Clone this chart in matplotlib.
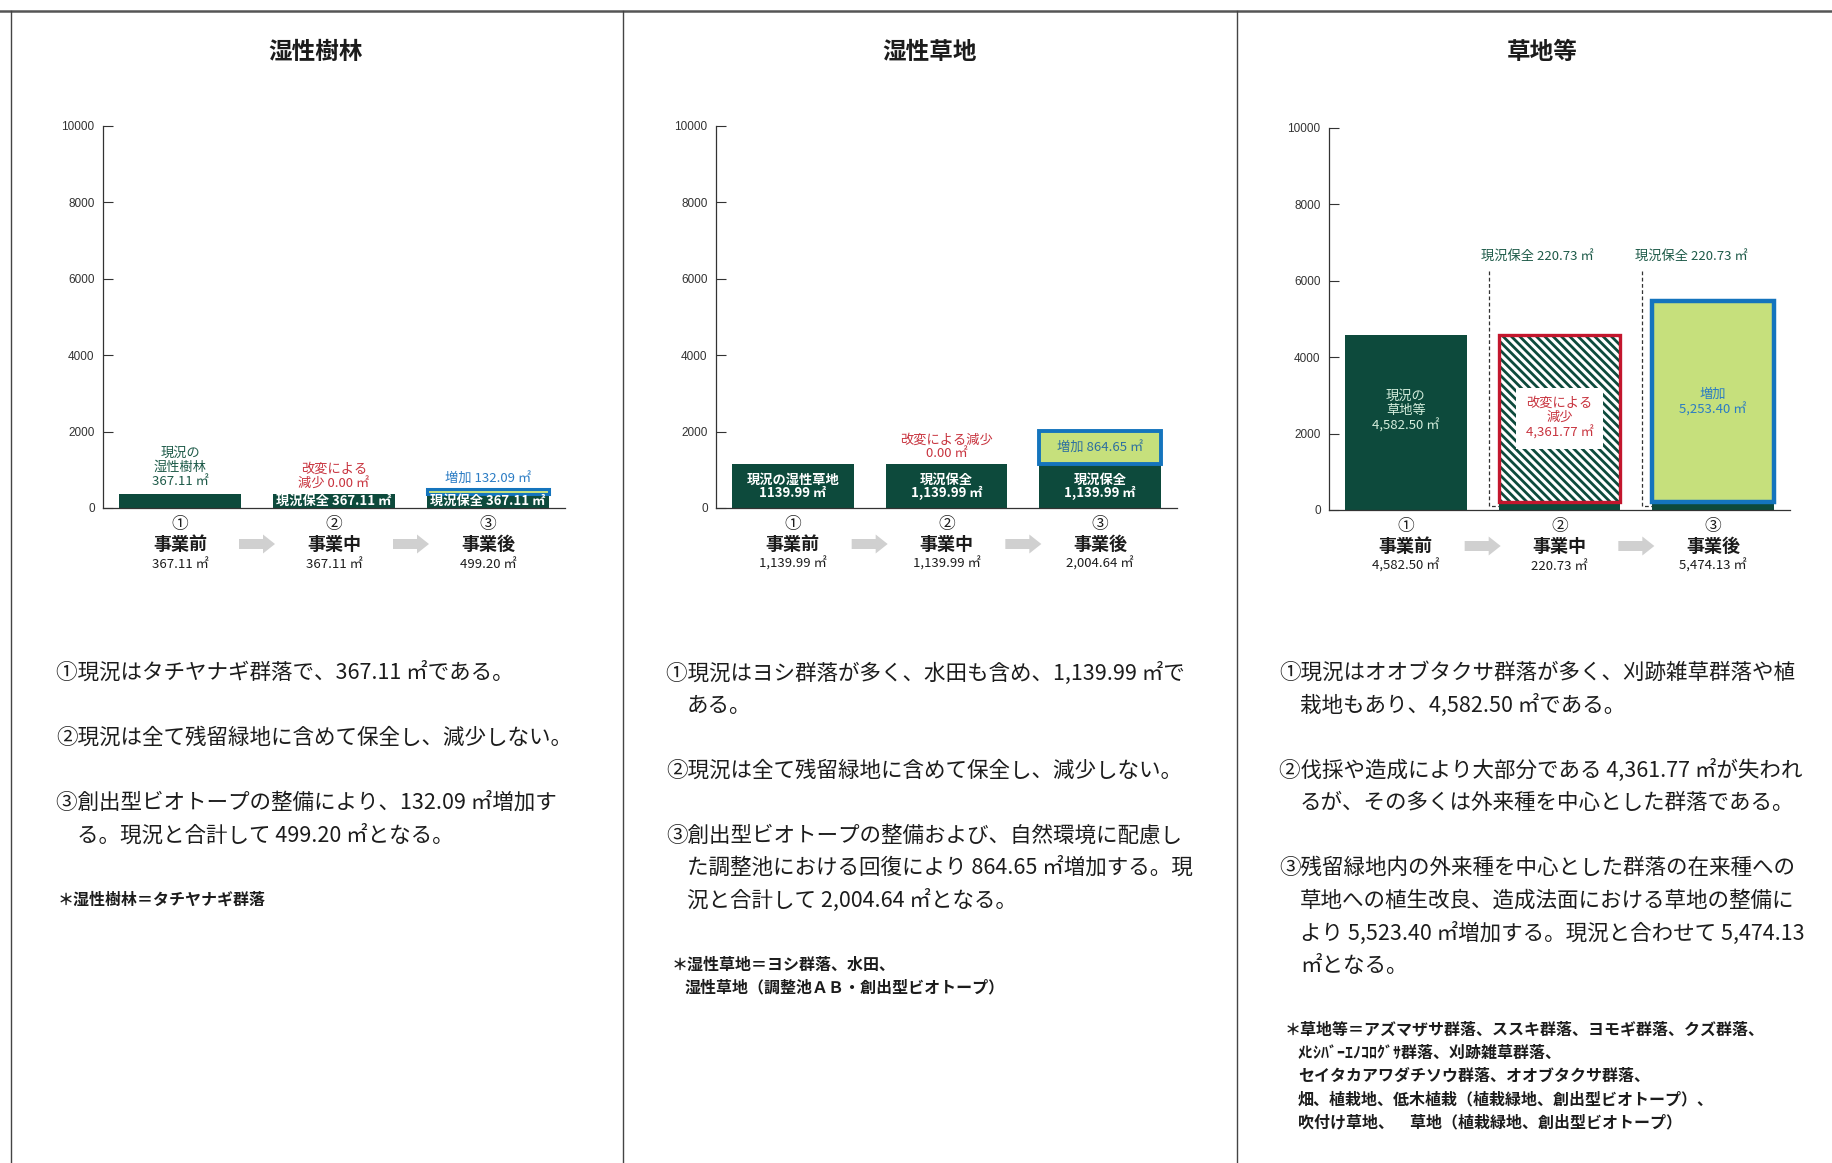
import matplotlib
matplotlib.use("Agg")
import matplotlib.pyplot as plt
from matplotlib.lines import Line2D
from matplotlib.patches import Rectangle, FancyArrow

plt.rcParams['font.family'] = ['Noto Sans CJK JP', 'DejaVu Sans']
plt.rcParams['hatch.linewidth'] = 2.0

W, H, DPI = 1832, 1163, 100

# ---------------------------------------------------------------- data
panel_titles = ["湿性樹林", "湿性草地", "草地等"]
stage_marks = ["①", "②", "③"]
stage_names = ["事業前", "事業中", "事業後"]

existing = [367.11, 1139.99, 4582.50]     # area before the works (㎡)
conserved = [367.11, 1139.99, 220.73]     # area kept as it is (㎡)
lost = [0.00, 0.00, 4361.77]              # area lost by alteration (㎡)
added = [132.09, 864.65, 5253.40]         # area created / restored (㎡)

y_ticks = [0, 2000, 4000, 6000, 8000, 10000]

paragraphs = [
    [["①現況はタチヤナギ群落で、367.11 ㎡である。"],
     ["②現況は全て残留緑地に含めて保全し、減少しない。"],
     ["③創出型ビオトープの整備により、132.09 ㎡増加す",
      "る。現況と合計して 499.20 ㎡となる。"]],
    [["①現況はヨシ群落が多く、水田も含め、1,139.99 ㎡で",
      "ある。"],
     ["②現況は全て残留緑地に含めて保全し、減少しない。"],
     ["③創出型ビオトープの整備および、自然環境に配慮し",
      "た調整池における回復により 864.65 ㎡増加する。現",
      "況と合計して 2,004.64 ㎡となる。"]],
    [["①現況はオオブタクサ群落が多く、刈跡雑草群落や植",
      "栽地もあり、4,582.50 ㎡である。"],
     ["②伐採や造成により大部分である 4,361.77 ㎡が失われ",
      "るが、その多くは外来種を中心とした群落である。"],
     ["③残留緑地内の外来種を中心とした群落の在来種への",
      "草地への植生改良、造成法面における草地の整備に",
      "より 5,523.40 ㎡増加する。現況と合わせて 5,474.13",
      "㎡となる。"]],
]

footnotes = [
    ["＊湿性樹林＝タチヤナギ群落"],
    ["＊湿性草地＝ヨシ群落、水田、",
     "湿性草地（調整池ＡＢ・創出型ビオトープ）"],
    ["＊草地等＝アズマザサ群落、ススキ群落、ヨモギ群落、クズ群落、",
     "ﾒﾋｼﾊﾞｰｴﾉｺﾛｸﾞｻ群落、刈跡雑草群落、",
     "セイタカアワダチソウ群落、オオブタクサ群落、",
     "畑、植栽地、低木植栽（植栽緑地、創出型ビオトープ）、",
     "吹付け草地、　草地（植栽緑地、創出型ビオトープ）"],
]

# ---------------------------------------------------------------- styles
DARK = "#0d4a3c"
LIGHT = "#c6e07c"
BLUE = "#1474bd"
RED = "#c3162d"
TXT_GREEN = "#1d5a48"
TXT_RED = "#c8343f"
TXT_BLUE = "#2b7cc4"
ARROW_GRAY = "#d0d0d0"
INK = "#1c1c1c"
BW = 0.79

# panel layout in pixels
axes_boxes = [(103, 126, 565, 508), (716, 126, 1177, 508), (1329, 128, 1790, 510)]
title_x = [316, 930, 1542]
text_x = [56, 666, 1279]
note_x = [58, 672, 1285]


def fmt(v, comma=True):
    return f"{v:,.2f}" if comma else f"{v:.2f}"


fig = plt.figure(figsize=(W / DPI, H / DPI), dpi=DPI)
fig.patch.set_facecolor("white")


def add_px_axes(l, t, r, b):
    return fig.add_axes([l / W, 1 - b / H, (r - l) / W, (b - t) / H])


def px_line(xs, ys, **kw):
    fig.add_artist(Line2D([x / W for x in xs], [1 - y / H for y in ys],
                          transform=fig.transFigure, **kw))


# frame of the three panels
px_line([0, W], [10.5, 10.5], color="#555555", lw=1.8)
px_line([10.5, 10.5], [10.5, H], color="#444444", lw=1.0)
px_line([623, 623], [10.5, H], color="#444444", lw=1.0)
px_line([1237, 1237], [10.5, H], color="#444444", lw=1.0)


def above(ax, x, y, text, color, gap=5, size=9.5):
    ax.annotate(text, xy=(x, y), xytext=(0, gap * 0.72), textcoords="offset points",
                ha="center", va="bottom", color=color, fontsize=size,
                linespacing=1.1, zorder=6, annotation_clip=False)


def inside(ax, x, y, text, color="white", size=9.5, weight="bold", ls=0.95):
    ax.text(x, y, text, ha="center", va="center", color=color, fontsize=size,
            fontweight=weight, linespacing=ls, zorder=6)


axes = []
for i, box in enumerate(axes_boxes):
    ax = add_px_axes(*box)
    axes.append(ax)
    ax.set_xlim(-0.5, 2.5)
    ax.set_ylim(0, 10000)
    for s in ("top", "right"):
        ax.spines[s].set_visible(False)
    for s in ("left", "bottom"):
        ax.spines[s].set_color("#333333")
        ax.spines[s].set_linewidth(0.9)
    ax.set_xticks([])
    ax.set_yticks(y_ticks)
    ax.tick_params(axis="y", direction="in", length=7, width=0.8, pad=6,
                   labelsize=8.5, colors="#333333")
    for lab in ax.get_yticklabels():
        lab.set_fontfamily(["Liberation Sans", "DejaVu Sans"])
    ax.set_facecolor("none")

    # panel title
    fig.text(title_x[i] / W, 1 - 52 / H, panel_titles[i], ha="center", va="center",
             fontsize=17, fontweight="bold", color=INK)

    # stage labels under the axis
    totals = [existing[i], conserved[i], conserved[i] + added[i]]
    for k in range(3):
        for dy, txt, size, wt in ((-17, stage_marks[k], 12, "normal"),
                                  (-36, stage_names[k], 13, "bold"),
                                  (-56, f"{fmt(totals[k])} ㎡", 9.5, "normal")):
            ax.annotate(txt, xy=(k, 0), xycoords=("data", "axes fraction"),
                        xytext=(0, dy * 0.72), textcoords="offset points",
                        ha="center", va="center", fontsize=size, fontweight=wt,
                        color=INK, annotation_clip=False)

    # grey arrows between the stages
    zero_px = box[3]
    for k in (0.5, 1.5):
        cx = box[0] + (box[2] - box[0]) * (k + 0.5) / 3.0
        cy = zero_px + 36
        fig.patches.append(FancyArrow(
            (cx - 18) / DPI, (H - cy) / DPI, 36 / DPI, 0, width=10 / DPI,
            head_width=19 / DPI, head_length=12 / DPI, length_includes_head=True,
            transform=fig.dpi_scale_trans, color=ARROW_GRAY, lw=0))

    # explanatory paragraphs
    y = 673
    last = y
    for p, para in enumerate(paragraphs[i]):
        for j, line in enumerate(para):
            fig.text((text_x[i] + (21 if j else 0)) / W, 1 - y / H, line,
                     ha="left", va="center", fontsize=15.5, color=INK)
            last = y
            y += 32.5
        y = last + 65
    y = last + 64
    for j, line in enumerate(footnotes[i]):
        fig.text((note_x[i] + (13 if j else 0)) / W, 1 - y / H, line,
                 ha="left", va="center", fontsize=11.5, fontweight="bold", color=INK)
        y += 23.3

# ---------------------------------------------------------------- 湿性樹林
ax = axes[0]
ax.bar(0, existing[0], width=BW, color=DARK, zorder=2)
ax.bar(1, conserved[0], width=BW, color=DARK, zorder=2)
ax.bar(2, conserved[0], width=BW, color=DARK, zorder=2)
ax.bar(2, added[0], bottom=conserved[0], width=BW, color=LIGHT, edgecolor=BLUE,
       linewidth=2.2, zorder=3)
above(ax, 0, existing[0], f"現況の\n湿性樹林\n{fmt(existing[0])} ㎡", TXT_GREEN, gap=6)
above(ax, 1, conserved[0], f"改変による\n減少 {fmt(lost[0])} ㎡", TXT_RED, gap=4)
above(ax, 2, conserved[0] + added[0], f"増加 {fmt(added[0])} ㎡", TXT_BLUE, gap=3)
inside(ax, 1, conserved[0] / 2, f"現況保全 {fmt(conserved[0])} ㎡", size=9.5)
inside(ax, 2, conserved[0] / 2, f"現況保全 {fmt(conserved[0])} ㎡", size=9.5)

# ---------------------------------------------------------------- 湿性草地
ax = axes[1]
ax.bar(0, existing[1], width=BW, color=DARK, zorder=2)
ax.bar(1, conserved[1], width=BW, color=DARK, zorder=2)
ax.bar(2, conserved[1], width=BW, color=DARK, zorder=2)
ax.bar(2, added[1], bottom=conserved[1], width=BW, color=LIGHT, edgecolor=BLUE,
       linewidth=2.8, zorder=3)
inside(ax, 0, existing[1] / 2, f"現況の湿性草地\n{fmt(existing[1], comma=False)} ㎡")
inside(ax, 1, conserved[1] / 2, f"現況保全\n{fmt(conserved[1])} ㎡")
inside(ax, 2, conserved[1] / 2, f"現況保全\n{fmt(conserved[1])} ㎡")
inside(ax, 2, conserved[1] + added[1] / 2, f"増加 {fmt(added[1])} ㎡",
       color="#2d6fa0", weight="normal")
above(ax, 1, conserved[1], f"改変による減少\n{fmt(lost[1])} ㎡", TXT_RED, gap=4)

# ---------------------------------------------------------------- 草地等
ax = axes[2]
ax.bar(0, existing[2], width=BW, color=DARK, zorder=2)
inside(ax, 0, existing[2] * 0.565, f"現況の\n草地等\n{fmt(existing[2])} ㎡",
       color="#d5eedd", weight="normal", ls=1.15)

# during the works: conserved base + hatched lost part
ax.bar(1, conserved[2], width=BW, color=DARK, zorder=2)
ax.bar(1, lost[2], bottom=conserved[2], width=BW, color="white", edgecolor=DARK,
       hatch="\\\\\\\\", linewidth=0, zorder=2)
ax.add_patch(Rectangle((1 - BW / 2, conserved[2]), BW, lost[2], fill=False,
                       edgecolor=RED, linewidth=2.4, zorder=4))
ax.add_patch(Rectangle((1 - 0.28, 1600), 0.56, 1600, facecolor="white",
                       edgecolor="none", zorder=4))
inside(ax, 1, 2400, f"改変による\n減少\n{fmt(lost[2])} ㎡", color=TXT_RED,
       weight="normal", ls=1.15)

# after the works: conserved base + created area
ax.bar(2, conserved[2], width=BW, color=DARK, zorder=2)
ax.bar(2, added[2], bottom=conserved[2], width=BW, color=LIGHT, edgecolor=BLUE,
       linewidth=3.2, zorder=3)
inside(ax, 2, 2830, f"増加\n{fmt(added[2])} ㎡", color=TXT_BLUE, weight="normal",
       ls=1.15)

# dashed leaders pointing at the conserved base
for k in (1, 2):
    xd = k - 0.46
    ax.plot([xd, xd, k - BW / 2], [6250, conserved[2] / 2, conserved[2] / 2],
            color="#333333", lw=0.9, ls=(0, (3, 2)), zorder=5, clip_on=False)
    ax.text(k - 0.51, 6650, f"現況保全 {fmt(conserved[2])} ㎡", ha="left",
            va="center", fontsize=9.5, color=TXT_GREEN, zorder=6)

fig.savefig("out.png", dpi=DPI, facecolor="white")
